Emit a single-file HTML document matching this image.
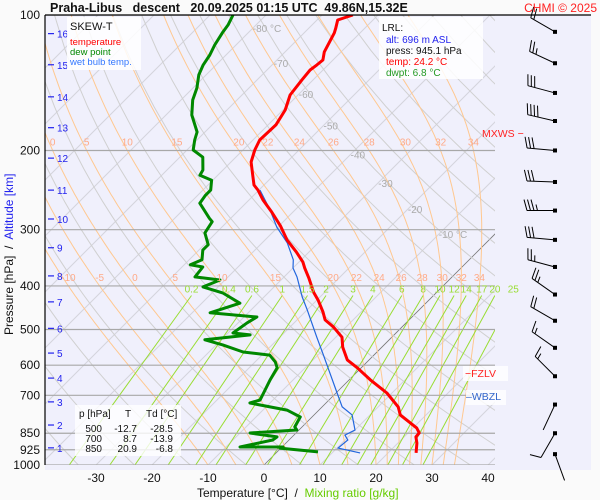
<!DOCTYPE html>
<html><head><meta charset="utf-8">
<style>
body{margin:0;background:#fafafa;width:600px;height:500px;overflow:hidden;font-family:"Liberation Sans",sans-serif}
svg{display:block}
</style></head>
<body>
<svg id="c" width="600" height="500" xmlns="http://www.w3.org/2000/svg" font-family="Liberation Sans, sans-serif">
<defs><clipPath id="pc"><rect x="45" y="15" width="450" height="450"/></clipPath></defs>
<rect x="0" y="0" width="600" height="500" fill="#fafafa"/>
<rect x="45" y="15" width="546" height="455" fill="#f0f0fc"/>
<g id="grid" clip-path="url(#pc)"></g>
<g id="marks" clip-path="url(#pc)"></g>
<g id="over"></g>
</svg>
<script>
const NS='http://www.w3.org/2000/svg';
// ---- data ----
const tempP=[100,102.6,106.9,109.6,120.8,125.9,129.1,132.5,139.4,150.6,162.6,175.5,189.6,199.5,212.2,226.8,238.6,244.8,257.7,274,294,316,336,354,365,384,413,430,457,476,493,520,547,584,608,647,692,743,774,828,849,866,894,940];
const tempT=[-64.5,-66.3,-65.2,-64.6,-63.0,-61.8,-62.0,-62.3,-62.0,-61.4,-59.6,-58.6,-58.8,-57.9,-56.4,-53.8,-51.8,-50.2,-47.5,-43.8,-39.8,-36.1,-32.3,-29.3,-27.9,-25.4,-22.0,-19.8,-16.8,-15.0,-12.3,-8.9,-7.0,-3.9,-0.7,3.8,9.1,13.6,15.4,20.7,22.0,22.1,23.4,25.0];
const dewP=[100,105.2,109.6,116.6,122.7,129.1,135.9,145.3,154.5,166.8,182,189.6,199.5,207,221,227,233,245,252,262,283,288,305,324,333,350,359,363,382,388,402,415,437,459,469,483,509,514,527,541,561,570,590,608,647,717,728,743,755,782,823,836,849,866,880,912,912,917,935];
const dewT=[-85.9,-85.0,-84.6,-83.8,-82.9,-82.3,-81.3,-79.3,-77.9,-75.4,-71.4,-70.4,-68.9,-65.9,-63.6,-63.2,-60.2,-58.6,-58.6,-58.2,-53.8,-52.7,-52.0,-49.3,-49.3,-47.7,-48.9,-46.3,-45.9,-40.9,-42.7,-38.0,-33.2,-36.8,-27.7,-28.4,-29.1,-25.7,-32.9,-28.8,-23.9,-18.6,-16.4,-15.0,-14.1,-12.3,-13.6,-9.3,-5.7,-2.1,-1.3,-0.4,-8.2,-2.7,-2.9,-7.5,0.2,-0.2,7.3];
const wbP=[245,271,296,321,350,365,382,423,452,520,564,692,743,774,836,858,880,917,940];
const wbT=[-49.8,-44.5,-40.2,-35.5,-31.4,-30.0,-27.7,-23.2,-20.0,-13.4,-9.5,0.2,3.6,6.8,10.0,9.1,10.5,10.2,15.0];
const pTicks=[100,200,300,400,500,600,700,850,925,1000];
const tTicks=[-30,-20,-10,0,10,20,30,40];
const kmLabels=[1,2,3,4,5,6,7,8,9,10,11,12,13,14,15,16];
const kmP=[916,815,724,641,564,497,434,380,329,284,245,208,178,152,129,110];
const isoVals=[-80,-70,-60,-50,-40,-30,-20,-10];
const isoLabelP=[107,128,150,176,204,236,270,307];
const moistVals=[-10,-5,0,5,10,15,20,22,24,26,28,30,32,34];
const mixVals=[0.2,0.4,0.6,1,1.5,2,3,4,6,8,10,12,14,17,20,25];
const windP=[109,128,149,172,200,235,272,316,363,418,478,549,635,734,850,946];
const windDir=[300,295,285,283,275,272,270,275,285,305,300,305,315,205,210,160];
const windSpd=[20,25,30,40,30,30,35,30,25,25,20,15,15,5,10,5];
// ---- scales ----
const yP=p=>15+450*(Math.log10(p)-2);
const xT=(T,p)=>264+5.6*T+(465-yP(p));
function el(tag,attrs,parent,text){const e=document.createElementNS(NS,tag);for(const k in attrs)e.setAttribute(k,attrs[k]);if(text!==undefined)e.textContent=text;(parent||svg).appendChild(e);return e;}
const svg=document.getElementById('c');
const grid=document.getElementById('grid'),marks=document.getElementById('marks'),over=document.getElementById('over');
function pathFrom(ps,ts){return ps.map((p,i)=>(i?'L':'M')+xT(ts[i],p).toFixed(1)+','+yP(p).toFixed(1)).join('');}
// isotherms
for(let T=-160;T<=50;T+=10){const l=el('line',{x1:xT(T,1000),y1:yP(1000),x2:xT(T,100),y2:yP(100),stroke:T===0?'#777':'#d4d4dc','stroke-width':T===0?0.8:1},grid);

}
// dry adiabats
for(let th=230;th<=480;th+=10){const ps=[],ts=[];for(let p=1000;p>=100;p-=20){ps.push(p);ts.push(th*Math.pow(p/1000,0.2857)-273.15);}
const d=el('path',{d:pathFrom(ps,ts),fill:'none',stroke:'#d0d0d0','stroke-width':1},grid);

}
// moist adiabats
const es=T=>6.112*Math.exp(17.67*T/(T+243.5));
function moist(T0){const ps=[],ts=[];let T=T0+273.15;for(let p=1000;p>=100;p-=5){ps.push(p);ts.push(T-273.15);const e=es(T-273.15),rs=0.622*e/(p-e);const dT=(287*T+2.5e6*rs)/(1004+2.5e6*2.5e6*rs*0.622/(287*T*T))/p;T-=dT*5;}return [ps,ts];}
const moistCurves=moistVals.map(v=>moist(v));
moistCurves.forEach(([ps,ts])=>{const d=el('path',{d:pathFrom(ps,ts),fill:'none',stroke:'#ffc890','stroke-width':1},grid);

});
// mixing ratio lines
function mixT(w,p){const e=w*p/(622+w),l=Math.log(e/6.112);return 243.5*l/(17.67-l);}
mixVals.forEach(w=>{const ps=[1000,420],ts=ps.map(p=>mixT(w,p));const d=el('path',{d:pathFrom(ps,ts),fill:'none',stroke:'#99dd33','stroke-width':1},grid);


const t=el('text',{x:xT(ts[1],420),y:yP(420)-3,'font-size':10,fill:'#99dd33','text-anchor':'middle'},over,String(w));

});
// moist labels at 200 and 400 hPa
[200,400].forEach(pl=>{moistCurves.forEach(([ps,ts],i)=>{if(pl===200&&moistVals[i]<0)return;const k=ps.indexOf(pl);const x=xT(ts[k],pl);if(x<48||x>492)return;
const t=el('text',{x:x,y:yP(pl)-5,'font-size':10,fill:'#ffaa88','text-anchor':'middle'},over,String(moistVals[i]));

});});
// isotherm labels
isoVals.forEach((v,i)=>{const p=isoLabelP[i];const t=el('text',{x:xT(v,p),y:yP(p)+4,'font-size':10,fill:'#aaa'},over,v===-80||v===-10?v+' °C':String(v));

});
// pressure lines & labels
pTicks.forEach(p=>{const y=yP(p);const l=el('line',{x1:45,y1:y,x2:495,y2:y,stroke:'#a8a8a8','stroke-width':1.2},grid);


const t=el('text',{x:40,y:y+4,'font-size':12,fill:'#111','text-anchor':'end'},over,String(p));

});
// km labels
kmLabels.forEach((k,i)=>{const y=yP(kmP[i]);el('line',{x1:48,y1:y,x2:54,y2:y,stroke:'#2222ee','stroke-width':1.2},over);
const t=el('text',{x:57,y:y+4,'font-size':10,fill:'#2222ee'},over,String(k));

});
// temperature ticks
tTicks.forEach(T=>{const t=el('text',{x:xT(T,1000),y:482,'font-size':12,fill:'#111','text-anchor':'middle'},over,String(T));

});
// series
let s=el('path',{d:pathFrom(wbP,wbT),fill:'none',stroke:'#2266dd','stroke-width':1.2},marks);


s=el('path',{d:pathFrom(dewP,dewT),fill:'none',stroke:'#008800','stroke-width':3,'stroke-linejoin':'round'},marks);


s=el('path',{d:pathFrom(tempP,tempT),fill:'none',stroke:'#ff0000','stroke-width':3,'stroke-linejoin':'round'},marks);


// wind barbs
windP.forEach((p,i)=>{const x0=555,y0=yP(p),d=windDir[i]*Math.PI/180,L=28;const sx=Math.sin(d),sy=-Math.cos(d);const x1=x0+L*sx,y1=y0+L*sy;
const g=el('g',{},over);


el('line',{x1:x0,y1:y0,x2:x1,y2:y1,stroke:'#000','stroke-width':1},g);
el('rect',{x:x0-2,y:y0-2,width:4,height:4,fill:'#000'},g);
const px=-sy,py=sx;let sp=windSpd[i],k=0;
while(sp>=10){const bx=x1-k*3.5*sx,by=y1-k*3.5*sy;el('line',{x1:bx,y1:by,x2:bx+11*px+3*sx,y2:by+11*py+3*sy,stroke:'#000','stroke-width':1},g);sp-=10;k++;}
if(sp>=5&&k>0){const bx=x1-k*3.5*sx,by=y1-k*3.5*sy;el('line',{x1:bx,y1:by,x2:bx+6*px+1.5*sx,y2:by+6*py+1.5*sy,stroke:'#000','stroke-width':1},g);}});
</script>
<svg width="600" height="500" style="position:absolute;left:0;top:0" font-family="Liberation Sans, sans-serif">
<line x1="45" y1="15" x2="591" y2="15" stroke="#000" stroke-width="1.2"/>
<line x1="45" y1="15" x2="45" y2="465" stroke="#000" stroke-width="1.2"/>
<text x="50" y="12" font-size="12.5" font-weight="bold" fill="#111" style="white-space:pre">Praha-Libus   descent   20.09.2025 01:15 UTC  49.86N,15.32E</text>
<text x="597" y="12" font-size="12" fill="#ff2222" text-anchor="end">CHMI © 2025</text>
<g>
<rect x="67" y="17" width="74" height="53" fill="#fff" opacity="0.85"/>
<text x="70" y="30" font-size="11" fill="#111">SKEW-T</text>
<text x="70" y="45" font-size="9.5" fill="#ff0000">temperature</text>
<text x="70" y="55" font-size="9.5" fill="#008800">dew point</text>
<text x="70" y="65" font-size="9.5" fill="#3377ff">wet bulb temp.</text>
</g>
<g>
<rect x="379" y="17" width="104" height="62" fill="#fff" opacity="0.85"/>
<text x="382" y="31" font-size="10" fill="#111">LRL:</text>
<text x="386" y="43" font-size="10" fill="#2222ee">alt: 696 m ASL</text>
<text x="386" y="54" font-size="10" fill="#111">press: 945.1 hPa</text>
<text x="386" y="65" font-size="10" fill="#ff0000">temp: 24.2 °C</text>
<text x="386" y="76" font-size="10" fill="#229922">dwpt: 6.8 °C</text>
</g>
<g>
<rect x="75" y="405" width="106" height="51" fill="#fff" opacity="0.8"/>
<text x="79" y="417" font-size="10" fill="#111">p [hPa]</text><text x="125" y="417" font-size="10" fill="#111">T</text><text x="146" y="417" font-size="10" fill="#111">Td [°C]</text>
<text x="102" y="432" font-size="10" fill="#111" text-anchor="end">500</text><text x="137" y="432" font-size="10" fill="#111" text-anchor="end">-12.7</text><text x="173" y="432" font-size="10" fill="#111" text-anchor="end">-28.5</text>
<text x="102" y="442" font-size="10" fill="#111" text-anchor="end">700</text><text x="137" y="442" font-size="10" fill="#111" text-anchor="end">8.7</text><text x="173" y="442" font-size="10" fill="#111" text-anchor="end">-13.9</text>
<text x="102" y="452" font-size="10" fill="#111" text-anchor="end">850</text><text x="137" y="452" font-size="10" fill="#111" text-anchor="end">20.9</text><text x="173" y="452" font-size="10" fill="#111" text-anchor="end">-6.8</text>
</g>
<rect x="463" y="366" width="45" height="15" fill="#fff" opacity="0.8"/>
<text x="465" y="377" font-size="10.5" fill="#ff2222">−FZLV</text>
<rect x="466" y="390" width="40" height="15" fill="#fff" opacity="0.8"/>
<text x="466" y="400" font-size="10.5" fill="#3366cc">–WBZL</text>
<text x="482" y="137" font-size="10.5" fill="#ff2222">MXWS −</text>
<text x="197" y="497" font-size="12" fill="#111" style="white-space:pre">Temperature [°C]  /  <tspan fill="#66cc00">Mixing ratio [g/kg]</tspan></text>
<text transform="translate(13,335) rotate(-90)" font-size="12" fill="#111" style="white-space:pre">Pressure [hPa]  /  <tspan fill="#2222ee">Altitude [km]</tspan></text>
</svg>
</body></html>
